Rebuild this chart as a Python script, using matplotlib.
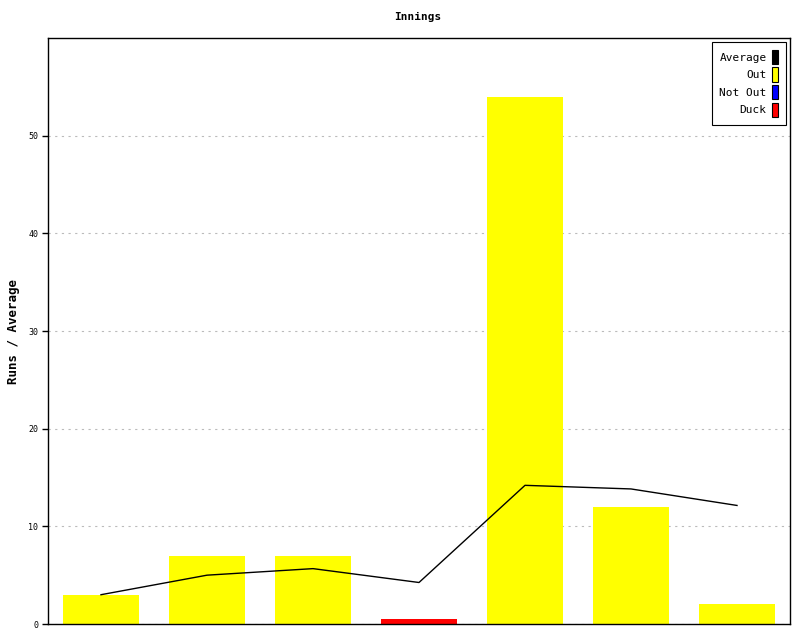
import matplotlib
matplotlib.use('Agg')
import matplotlib.pyplot as plt
from matplotlib.patches import Rectangle

# innings data
innings = [1, 2, 3, 4, 5, 6, 7]
runs = [3, 7, 7, 0.5, 54, 12, 2]
status = ['Out', 'Out', 'Out', 'Duck', 'Out', 'Out', 'Out']
average = [3, 5, 5.67, 4.25, 14.2, 13.83, 12.14]
yticks = [0, 10, 20, 30, 40, 50]

colors = {'Out': '#ffff00', 'Not Out': '#0000ff', 'Duck': '#ff0000'}
mono = 'DejaVu Sans Mono'

fig = plt.figure(figsize=(8, 6.4), dpi=100)
ax = fig.add_axes([0.06, 0.025, 0.9275, 0.9155])

x = list(range(len(innings)))
ax.bar(x, runs, width=0.72, color=[colors[s] for s in status], zorder=2)
ax.plot(x, average, color='black', linewidth=1, zorder=3)

ax.set_xlim(-0.5, 6.5)
ax.set_ylim(0, 60)
ax.set_xticks([])
ax.set_yticks(yticks)
ax.set_yticklabels([str(t) for t in yticks], fontsize=6, family=mono)
ax.tick_params(axis='y', length=4, width=1, pad=3)
ax.yaxis.grid(True, linestyle=(0, (2, 4)), color='#bbbbbb', linewidth=0.8, zorder=0)
ax.set_axisbelow(True)
for sp in ax.spines.values():
    sp.set_linewidth(1)

ax.set_ylabel('Runs / Average', fontsize=9, family=mono, fontweight='bold', labelpad=6)
fig.text(0.522, 0.973, 'Innings', ha='center', va='center', fontsize=8, family=mono, fontweight='bold')

# legend: labels on the left, tall colour swatches on the right
labels = ['Average', 'Out', 'Not Out', 'Duck']
fills = ['#000000', colors['Out'], colors['Not Out'], colors['Duck']]
handles = [Rectangle((0, 0), 1, 1, facecolor=c, edgecolor='black', linewidth=0.8) for c in fills]
leg = ax.legend(handles, labels, loc='upper right', markerfirst=False, fancybox=False,
                framealpha=1, edgecolor='black', prop={'family': mono, 'size': 8},
                handlelength=0.55, handleheight=1.6, handletextpad=0.5, labelspacing=0.3,
                borderpad=0.7, borderaxespad=0.35)
leg.get_frame().set_linewidth(0.8)
for t in leg.get_texts():
    t.set_ha('right')

fig.savefig('out.png', dpi=100)
